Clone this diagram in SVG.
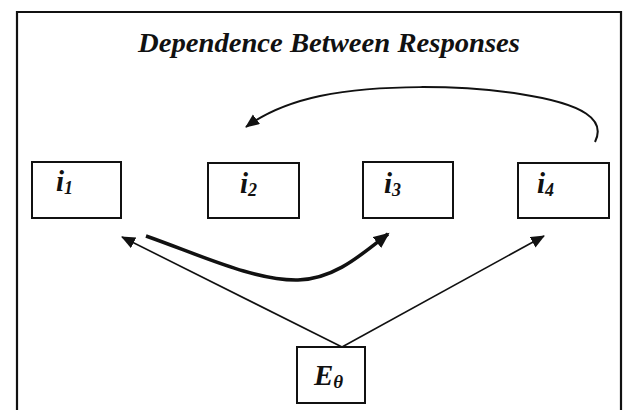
<svg xmlns="http://www.w3.org/2000/svg" width="623" height="410" viewBox="0 0 623 410">
<style>
.box{fill:#fff;stroke:#111;stroke-width:2}
.lbl{font-family:"Liberation Serif","Times New Roman",serif;font-weight:bold;font-style:italic;fill:#111}
.conn{fill:none;stroke:#111}
</style>
<defs>
<marker id="ah" markerUnits="userSpaceOnUse" markerWidth="16" markerHeight="14" refX="13" refY="6" orient="auto">
<path d="M0,0 L14,6 L0,12 Z" fill="#111"/>
</marker>
<marker id="ahb" markerUnits="userSpaceOnUse" markerWidth="18" markerHeight="16" refX="14" refY="7" orient="auto">
<path d="M0,0 L16,7 L0,14 Z" fill="#111"/>
</marker>
</defs>
<rect x="0" y="0" width="623" height="410" fill="#fff"/>
<path d="M17,420 L17,12 L621,12 L621,420" fill="none" stroke="#111" stroke-width="2.2"/>
<text class="lbl" x="329" y="52" font-size="28" text-anchor="middle" textLength="382" lengthAdjust="spacingAndGlyphs">Dependence Between Responses</text>
<g id="connectors">
<path class="conn" stroke-width="2" d="M595,142 C606,120 585,104 520,94 C460,85 380,84 320,96 C292,102 265,113 246,127" marker-end="url(#ah)"/>
<path class="conn" stroke-width="3.5" d="M146,236 C200,255 255,281 298,280 C335,279 362,254 388,234" marker-end="url(#ahb)"/>
<path class="conn" stroke-width="1.6" d="M342,347 L122,237" marker-end="url(#ah)"/>
<path class="conn" stroke-width="1.6" d="M342,347 L544,236" marker-end="url(#ah)"/>
</g>
<g id="i1">
<rect class="box" x="32" y="162" width="89" height="56"/>
<text class="lbl" x="56" y="191" font-size="29">i<tspan font-size="18" dy="3">1</tspan></text>
</g>
<g id="i2">
<rect class="box" x="208" y="163" width="91" height="55"/>
<text class="lbl" x="240" y="193" font-size="29">i<tspan font-size="18" dy="3">2</tspan></text>
</g>
<g id="i3">
<rect class="box" x="363" y="162" width="90" height="56"/>
<text class="lbl" x="384" y="193" font-size="29">i<tspan font-size="18" dy="3">3</tspan></text>
</g>
<g id="i4">
<rect class="box" x="518" y="163" width="91" height="55"/>
<text class="lbl" x="537" y="193" font-size="29">i<tspan font-size="18" dy="3">4</tspan></text>
</g>
<g id="E">
<rect class="box" x="297" y="347" width="68" height="56"/>
<text class="lbl" x="314" y="385" font-size="29">E<tspan font-size="19" dy="3">θ</tspan></text>
</g>
</svg>
